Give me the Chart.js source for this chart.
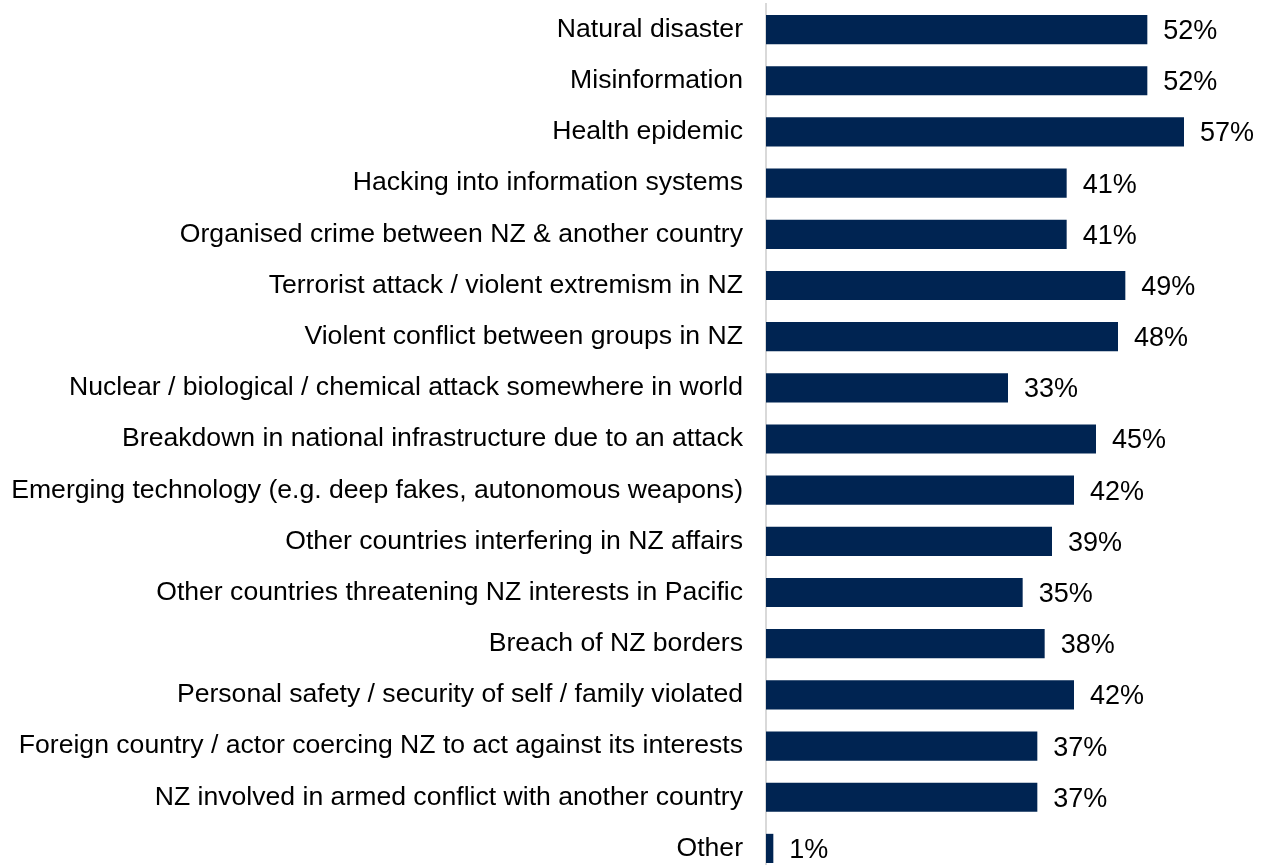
<!DOCTYPE html>
<html>
<head>
<meta charset="utf-8">
<script src="https://cdn.jsdelivr.net/npm/chart.js@4/dist/chart.umd.min.js"></script>
<style>
  html, body { margin: 0; padding: 0; background: #ffffff; overflow: hidden; }
  #wrap { position: relative; width: 1263px; height: 874px; }
</style>
</head>
<body>
<div id="wrap"><canvas id="c"></canvas></div>
<script>
const categories = [
  "Natural disaster",
  "Misinformation",
  "Health epidemic",
  "Hacking into information systems",
  "Organised crime between NZ & another country",
  "Terrorist attack / violent extremism in NZ",
  "Violent conflict between groups in NZ",
  "Nuclear / biological / chemical attack somewhere in world",
  "Breakdown in national infrastructure due to an attack",
  "Emerging technology (e.g. deep fakes, autonomous weapons)",
  "Other countries interfering in NZ affairs",
  "Other countries threatening NZ interests in Pacific",
  "Breach of NZ borders",
  "Personal safety / security of self / family violated",
  "Foreign country / actor coercing NZ to act against its interests",
  "NZ involved in armed conflict with another country",
  "Other"
];
const values = [52, 52, 57, 41, 41, 49, 48, 33, 45, 42, 39, 35, 38, 42, 37, 37, 1];
const valueLabels = values.map(v => v + "%");

const FONT = "'Liberation Sans', Arial, sans-serif";

const valueLabelPlugin = {
  id: 'valueLabels',
  afterDatasetsDraw(chart) {
    const ctx = chart.ctx;
    const meta = chart.getDatasetMeta(0);
    ctx.save();
    ctx.font = "27px " + FONT;
    ctx.fillStyle = "#000000";
    ctx.textAlign = "left";
    ctx.textBaseline = "middle";
    meta.data.forEach((bar, i) => {
      ctx.fillText(valueLabels[i], bar.x + 16, bar.y + 2);
    });
    ctx.restore();
  }
};

new Chart(document.getElementById('c'), {
  type: 'bar',
  data: {
    labels: categories,
    datasets: [{
      data: values,
      backgroundColor: '#002452',
      borderWidth: 0,
      categoryPercentage: 1,
      barPercentage: 0.57
    }]
  },
  options: {
    indexAxis: 'y',
    responsive: true,
    maintainAspectRatio: false,
    animation: false,
    layout: { padding: { top: 4, right: 57, bottom: 0, left: 0 } },
    plugins: {
      legend: { display: false },
      tooltip: { enabled: false }
    },
    scales: {
      x: {
        display: false,
        min: 0,
        max: 60
      },
      y: {
        afterFit(scale) {
          scale.width = 766;
          scale.paddingTop = 0;
          scale.paddingBottom = 0;
        },
        grid: { display: false, drawTicks: false },
        border: { display: true, color: '#d9d9d9', width: 2 },
        ticks: {
          padding: 23,
          color: '#000000',
          font: { family: FONT, size: 26.6 },
          autoSkip: false
        }
      }
    }
  },
  plugins: [valueLabelPlugin]
});
</script>
</body>
</html>
